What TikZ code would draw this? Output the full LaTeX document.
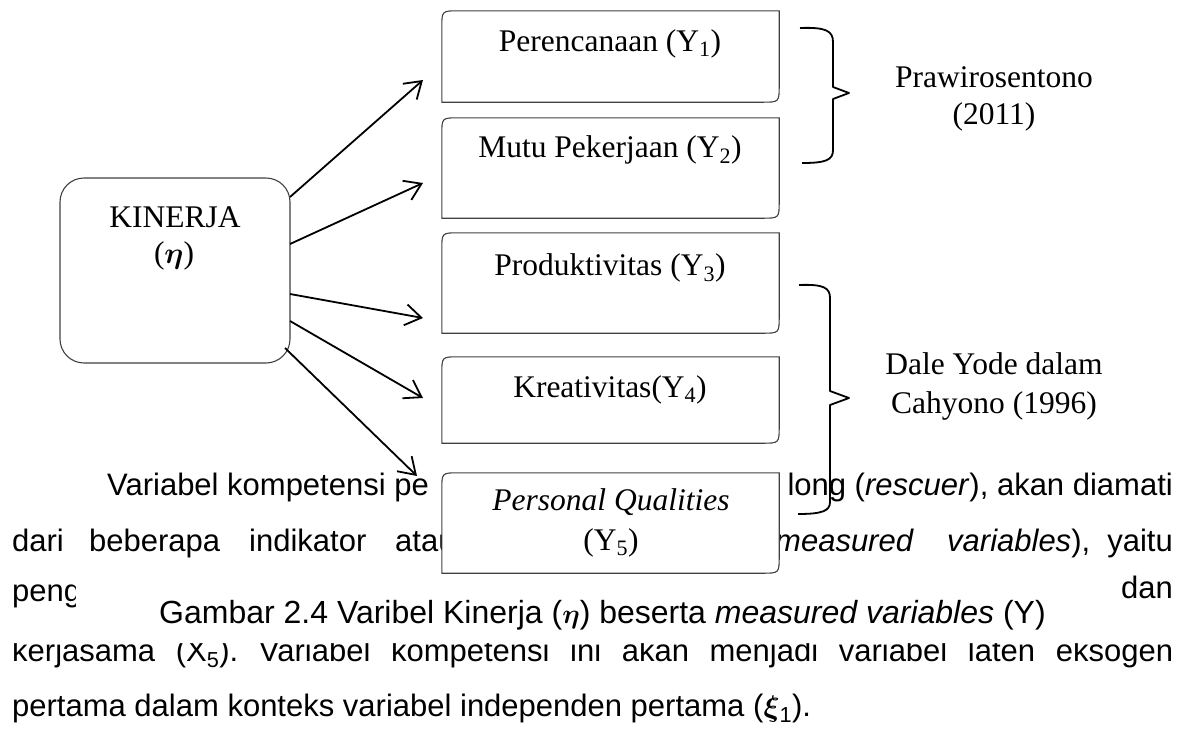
\documentclass[tikz,border=0pt]{standalone}
\usepackage{fontspec}
\setmainfont{Liberation Serif}
\newfontfamily\arialf{Liberation Sans}
\usetikzlibrary{arrows.meta,calc}
\frenchspacing

\newcommand\serifsz{\fontsize{31.5}{36}\selectfont}
\newcommand\bodysz{\arialf\fontsize{31}{35}\selectfont}
\newcommand\capsz{\arialf\fontsize{32}{36}\selectfont}

\newcommand\diagoutline[1]{%
  \draw[boxline] (#1.south west) -- ([yshift=-17pt]#1.north west)
    .. controls (#1.north west) .. ([xshift=17pt]#1.north west)
    -- (#1.north east) -- ([yshift=17pt]#1.south east)
    .. controls (#1.south east) .. ([xshift=-17pt]#1.south east) -- cycle;}

\tikzset{
  boxfill/.style={draw=none, fill=white, inner sep=0pt, minimum width=337pt},
  boxline/.style={draw=black!75, line width=1.1pt},
  kbox/.style={draw=black!75, fill=white, line width=1.1pt, rounded corners=24pt,
               inner sep=0pt, minimum width=230pt, minimum height=185pt},
  lbl/.style={inner sep=0pt, anchor=base, font=\serifsz},
  body/.style={inner sep=0pt, anchor=base west, font=\bodysz},
  bodyr/.style={inner sep=0pt, anchor=base east, font=\bodysz},
  captxt/.style={inner sep=0pt, anchor=base west, font=\capsz},
  arr/.style={line width=1.8pt, -{Straight Barb[length=16pt,width=21pt]}},
  bracel/.style={line width=1.8pt, line join=round},
}

\begin{document}
\begin{tikzpicture}[x=1pt,y=-1pt]
\useasboundingbox (0,0) rectangle (1189,731);

% body text behind the figure
\node[body]  (l1a) at (107,495) {Variabel kompetensi pe};
\node[bodyr] (l1b) at (1173,495) {long (\textit{rescuer}), akan diamati};
\node[body]  (l2a) at (12,551) {dari};
\node[body]  (l2b) at (89,551) {beberapa};
\node[body]  (l2c) at (249,551) {indikator};
\node[body]  (l2d) at (395,551) {atau};
\node[body]  (l2e) at (775,551) {\textit{measured}};
\node[body]  (l2f) at (947,551) {\textit{variables}),};
\node[bodyr] (l2g) at (1173,551) {yaitu};
\node[body]  (l3a) at (12,601) {peng};
\node[bodyr] (l3b) at (1173,598) {dan};
\node[body]  (l4) at (12,661) {\makebox[1161pt][s]{kerjasama (X\textsubscript{5}). Variabel kompetensi ini akan menjadi variabel laten eksogen}};
\node[body]  (l5) at (12,716) {pertama dalam konteks variabel independen pertama (\scalebox{1.2}{\boldmath$\xi$}\textsubscript{1}).};

% caption background and caption
\fill[white] (76,577) -- (1065,577) -- (1065,612) -- (1189,612) -- (1189,643)
  -- (0,643) -- (0,612) -- (76,612) -- cycle;
\node[captxt] (cap) at (159,623) {Gambar 2.4 Varibel Kinerja (\scalebox{1.1}{\boldmath$\eta$}) beserta \textit{measured variables} (Y)};

% right boxes
\node[boxfill, minimum height=91pt]  (b1) at (610.5,56.5) {};
\node[boxfill, minimum height=100pt] (b2) at (610.5,168) {};
\node[boxfill, minimum height=100pt] (b3) at (610.5,283) {};
\node[boxfill, minimum height=86pt]  (b4) at (610.5,400) {};
\node[boxfill, minimum height=100pt] (b5) at (610.5,523) {};
\diagoutline{b1}\diagoutline{b2}\diagoutline{b3}\diagoutline{b4}\diagoutline{b5}

\node[lbl] (t1) at (610,51) {Perencanaan (Y\textsubscript{1})};
\node[lbl] (t2) at (610,157) {Mutu Pekerjaan (Y\textsubscript{2})};
\node[lbl] (t3) at (610,275) {Produktivitas (Y\textsubscript{3})};
\node[lbl] (t4) at (610,397) {Kreativitas(Y\textsubscript{4})};
\node[lbl] (t5a) at (611,510) {\textit{Personal Qualities}};
\node[lbl] (t5b) at (611,550) {(Y\textsubscript{5})};

% KINERJA box
\node[kbox] (k) at (175,270.5) {};
\node[lbl] (kt1) at (175,227) {KINERJA};
\node[lbl] (kt2) at (174,263) {(\scalebox{1.2}{\boldmath$\eta$})};

% arrows
\coordinate (s1) at (290,197); \coordinate (e1) at (423,80);
\coordinate (s2) at (290,244); \coordinate (e2) at (423,183);
\coordinate (s3) at (290,294); \coordinate (e3) at (423,318);
\coordinate (s4) at (290,321); \coordinate (e4) at (423,398);
\coordinate (s5) at (285,348); \coordinate (e5) at (417,476);
\draw[arr] (s1) -- (e1);
\draw[arr] (s2) -- (e2);
\draw[arr] (s3) -- (e3);
\draw[arr] (s4) -- (e4);
\draw[arr] (s5) -- (e5);

% braces
\draw[bracel] (800,28) .. controls (826,27) and (833,31) .. (833,42) -- (833,87)
  -- (849,93) -- (833,99) -- (833,150) .. controls (833,160) and (826,163) .. (802,163);
\draw[bracel] (799,285) .. controls (824,284) and (830,288) .. (830,298) -- (830,391)
  -- (849,398) -- (830,405) -- (830,502) .. controls (830,511) and (822,514) .. (798,514);

\node[lbl] (p1) at (994,87) {Prawirosentono};
\node[lbl] (p2) at (994,124) {(2011)};
\node[lbl] (d1) at (994,374) {Dale Yode dalam};
\node[lbl] (d2) at (994,413) {Cahyono (1996)};
\end{tikzpicture}
\end{document}
